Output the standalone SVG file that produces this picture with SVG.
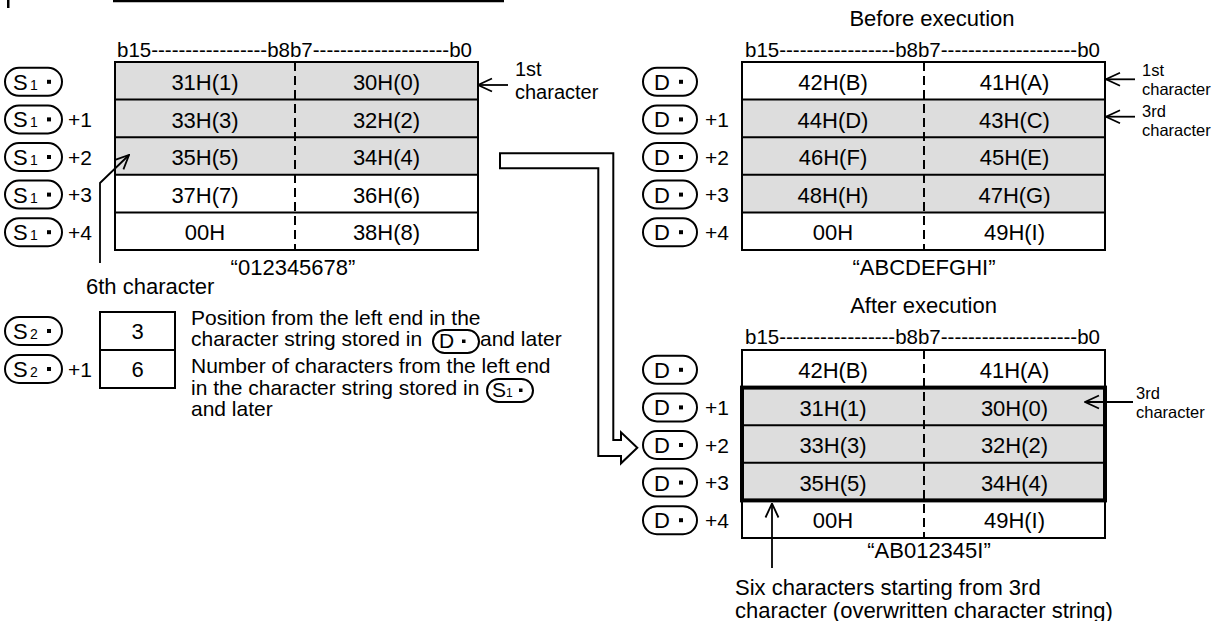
<svg xmlns="http://www.w3.org/2000/svg" width="1231" height="621" viewBox="0 0 1231 621">
<defs>
<style>
text{font-family:"Liberation Sans",Arial,sans-serif;fill:#000}
.c{font-size:22px;text-anchor:middle}
.t{font-size:22px}
.t2{font-size:20px}
.h{font-size:21px}
.s{font-size:16.5px}
.d{font-size:21px}
.g{fill:#dddddd;stroke:none}
.ln{stroke:#000;stroke-width:2;fill:none}
.bold{stroke:#000;stroke-width:4;fill:none}
.dash{stroke:#000;stroke-width:2;stroke-dasharray:9 5;fill:none}
.pill{fill:#fff;stroke:#000;stroke-width:2}
.pl{font-size:22px}
.sub{font-size:14px}
.pn{font-size:21px}
.arr{stroke:#000;stroke-width:1.8;fill:none;marker-end:url(#oa)}
</style>
<marker id="oa" markerUnits="userSpaceOnUse" viewBox="0 0 16 16" refX="15" refY="8" markerWidth="16" markerHeight="16" orient="auto"><path d="M1,1.5 L15,8 L1,14.5" fill="none" stroke="#000" stroke-width="1.8"/></marker>
</defs>

<g id="frame">
<rect x="7" y="0" width="2.5" height="8" fill="#000"/>
<line x1="113" y1="1" x2="504" y2="1" stroke="#000" stroke-width="2.5"/>
</g>

<!-- Source table S1 -->
<g id="s1-table">
<text class="h" x="117" y="57" textLength="355" lengthAdjust="spacingAndGlyphs">b15-----------------b8b7--------------------b0</text>
<rect class="g" x="115" y="62" width="363" height="112.8"/>
<line class="ln" x1="115" y1="99.6" x2="478" y2="99.6"/>
<line class="ln" x1="115" y1="137.2" x2="478" y2="137.2"/>
<line class="ln" x1="115" y1="174.8" x2="478" y2="174.8"/>
<line class="ln" x1="115" y1="212.4" x2="478" y2="212.4"/>
<rect class="ln" x="115" y="62" width="363" height="188"/>
<line class="dash" x1="295" y1="62" x2="295" y2="250"/>
<text class="c" x="205" y="90">31H(1)</text><text class="c" x="386.5" y="90">30H(0)</text>
<text class="c" x="205" y="127.6">33H(3)</text><text class="c" x="386.5" y="127.6">32H(2)</text>
<text class="c" x="205" y="165.2">35H(5)</text><text class="c" x="386.5" y="165.2">34H(4)</text>
<text class="c" x="205" y="202.8">37H(7)</text><text class="c" x="386.5" y="202.8">36H(6)</text>
<text class="c" x="205" y="240.4">00H</text><text class="c" x="386.5" y="240.4">38H(8)</text>
<text class="c" x="293" y="275">“012345678”</text>
</g>

<g id="s1-labels">
<rect class="pill" x="5" y="67.8" width="57" height="28" rx="14"/><text class="pl" x="13" y="89.8">S</text><text class="sub" x="30" y="89.8">1</text><rect x="47" y="79.8" width="4" height="4"/>
<rect class="pill" x="5" y="105.4" width="57" height="28" rx="14"/><text class="pl" x="13" y="127.4">S</text><text class="sub" x="30" y="127.4">1</text><rect x="47" y="117.4" width="4" height="4"/><text class="pn" x="68" y="127">+1</text>
<rect class="pill" x="5" y="143" width="57" height="28" rx="14"/><text class="pl" x="13" y="165">S</text><text class="sub" x="30" y="165">1</text><rect x="47" y="155" width="4" height="4"/><text class="pn" x="68" y="164.6">+2</text>
<rect class="pill" x="5" y="180.6" width="57" height="28" rx="14"/><text class="pl" x="13" y="202.6">S</text><text class="sub" x="30" y="202.6">1</text><rect x="47" y="192.6" width="4" height="4"/><text class="pn" x="68" y="202.2">+3</text>
<rect class="pill" x="5" y="218.2" width="57" height="28" rx="14"/><text class="pl" x="13" y="240.2">S</text><text class="sub" x="30" y="240.2">1</text><rect x="47" y="230.2" width="4" height="4"/><text class="pn" x="68" y="239.8">+4</text>
</g>

<g id="label-1st-left">
<text class="t2" x="515" y="76">1st</text>
<text class="t2" x="515" y="98.5">character</text>
</g>

<g id="label-6th">
<text class="t" x="86" y="294">6th character</text>
</g>

<!-- S2 -->
<g id="s2-table">
<rect class="ln" x="100" y="312" width="75" height="76"/>
<line class="ln" x1="100" y1="350" x2="175" y2="350"/>
<text class="c" x="137.5" y="339">3</text>
<text class="c" x="137.5" y="377">6</text>
<rect class="pill" x="5" y="317" width="57" height="28" rx="14"/><text class="pl" x="13" y="339">S</text><text class="sub" x="30" y="339">2</text><rect x="47" y="329" width="4" height="4"/>
<rect class="pill" x="5" y="355" width="57" height="28" rx="14"/><text class="pl" x="13" y="377">S</text><text class="sub" x="30" y="377">2</text><rect x="47" y="367" width="4" height="4"/><text class="pn" x="68" y="376.5">+1</text>
</g>

<g id="s2-desc">
<text class="d" x="191" y="325">Position from the left end in the</text>
<text class="d" x="191" y="346">character string stored in</text>
<rect class="pill" x="433" y="330" width="46" height="23" rx="11.5"/><text class="d" x="439" y="348">D</text><rect x="462" y="339.5" width="3.5" height="3.5"/>
<text class="d" x="480" y="346">and later</text>
<text class="d" x="191" y="373">Number of characters from the left end</text>
<text class="d" x="191" y="395">in the character string stored in</text>
<rect class="pill" x="487" y="379" width="46" height="23" rx="11.5"/><text class="d" x="492" y="397">S</text><text style="font-size:12px" x="506" y="397">1</text><rect x="519" y="388.5" width="3.5" height="3.5"/>
<text class="d" x="191" y="416">and later</text>
</g>

<!-- Before execution -->
<g id="d-before-table">
<text class="t" x="932" y="26" text-anchor="middle">Before execution</text>
<text class="h" x="745" y="57" textLength="355" lengthAdjust="spacingAndGlyphs">b15-----------------b8b7--------------------b0</text>
<rect class="g" x="742" y="99.6" width="363" height="112.8"/>
<line class="ln" x1="742" y1="99.6" x2="1105" y2="99.6"/>
<line class="ln" x1="742" y1="137.2" x2="1105" y2="137.2"/>
<line class="ln" x1="742" y1="174.8" x2="1105" y2="174.8"/>
<line class="ln" x1="742" y1="212.4" x2="1105" y2="212.4"/>
<rect class="ln" x="742" y="62" width="363" height="188"/>
<line class="dash" x1="924" y1="62" x2="924" y2="250"/>
<text class="c" x="833" y="90">42H(B)</text><text class="c" x="1014.5" y="90">41H(A)</text>
<text class="c" x="833" y="127.6">44H(D)</text><text class="c" x="1014.5" y="127.6">43H(C)</text>
<text class="c" x="833" y="165.2">46H(F)</text><text class="c" x="1014.5" y="165.2">45H(E)</text>
<text class="c" x="833" y="202.8">48H(H)</text><text class="c" x="1014.5" y="202.8">47H(G)</text>
<text class="c" x="833" y="240.4">00H</text><text class="c" x="1014.5" y="240.4">49H(I)</text>
<text class="c" x="924" y="275">“ABCDEFGHI”</text>
</g>

<g id="d-before-labels">
<rect class="pill" x="643" y="67.8" width="54" height="28" rx="14"/><text class="pl" x="654" y="89.8">D</text><rect x="679" y="79.8" width="4" height="4"/>
<rect class="pill" x="643" y="105.4" width="54" height="28" rx="14"/><text class="pl" x="654" y="127.4">D</text><rect x="679" y="117.4" width="4" height="4"/><text class="pn" x="705" y="127">+1</text>
<rect class="pill" x="643" y="143" width="54" height="28" rx="14"/><text class="pl" x="654" y="165">D</text><rect x="679" y="155" width="4" height="4"/><text class="pn" x="705" y="164.6">+2</text>
<rect class="pill" x="643" y="180.6" width="54" height="28" rx="14"/><text class="pl" x="654" y="202.6">D</text><rect x="679" y="192.6" width="4" height="4"/><text class="pn" x="705" y="202.2">+3</text>
<rect class="pill" x="643" y="218.2" width="54" height="28" rx="14"/><text class="pl" x="654" y="240.2">D</text><rect x="679" y="230.2" width="4" height="4"/><text class="pn" x="705" y="239.8">+4</text>
</g>

<g id="label-before-right">
<text class="s" x="1142" y="76">1st</text>
<text class="s" x="1142" y="94.5">character</text>
<text class="s" x="1142" y="117">3rd</text>
<text class="s" x="1142" y="135.5">character</text>
</g>

<!-- After execution -->
<g id="d-after-table">
<text class="t" x="923.5" y="313" text-anchor="middle">After execution</text>
<text class="h" x="745" y="344" textLength="355" lengthAdjust="spacingAndGlyphs">b15-----------------b8b7--------------------b0</text>
<rect class="g" x="742" y="387.6" width="363" height="112.8"/>
<line class="ln" x1="742" y1="425.2" x2="1105" y2="425.2"/>
<line class="ln" x1="742" y1="462.8" x2="1105" y2="462.8"/>
<rect class="ln" x="742" y="350" width="363" height="188"/>
<line class="dash" x1="924" y1="350" x2="924" y2="538"/>
<rect class="bold" x="742" y="387.6" width="363" height="112.8"/>
<text class="c" x="833" y="378">42H(B)</text><text class="c" x="1014.5" y="378">41H(A)</text>
<text class="c" x="833" y="415.6">31H(1)</text><text class="c" x="1014.5" y="415.6">30H(0)</text>
<text class="c" x="833" y="453.2">33H(3)</text><text class="c" x="1014.5" y="453.2">32H(2)</text>
<text class="c" x="833" y="490.8">35H(5)</text><text class="c" x="1014.5" y="490.8">34H(4)</text>
<text class="c" x="833" y="528.4">00H</text><text class="c" x="1014.5" y="528.4">49H(I)</text>
<text class="c" x="929" y="558">“AB012345I”</text>
</g>

<g id="d-after-labels">
<rect class="pill" x="643" y="355.8" width="54" height="28" rx="14"/><text class="pl" x="654" y="377.8">D</text><rect x="679" y="367.8" width="4" height="4"/>
<rect class="pill" x="643" y="393.4" width="54" height="28" rx="14"/><text class="pl" x="654" y="415.4">D</text><rect x="679" y="405.4" width="4" height="4"/><text class="pn" x="705" y="415">+1</text>
<rect class="pill" x="643" y="431" width="54" height="28" rx="14"/><text class="pl" x="654" y="453">D</text><rect x="679" y="443" width="4" height="4"/><text class="pn" x="705" y="452.6">+2</text>
<rect class="pill" x="643" y="468.6" width="54" height="28" rx="14"/><text class="pl" x="654" y="490.6">D</text><rect x="679" y="480.6" width="4" height="4"/><text class="pn" x="705" y="490.2">+3</text>
<rect class="pill" x="643" y="506.2" width="54" height="28" rx="14"/><text class="pl" x="654" y="528.2">D</text><rect x="679" y="518.2" width="4" height="4"/><text class="pn" x="705" y="527.8">+4</text>
</g>

<g id="label-after-right">
<text class="s" x="1136" y="399">3rd</text>
<text class="s" x="1136" y="417.5">character</text>
</g>

<g id="label-six">
<text class="t" x="735" y="595">Six characters starting from 3rd</text>
<text class="t" x="735" y="618">character (overwritten character string)</text>
</g>

<g id="connectors">
<path d="M500,153.3 H613.3 V440 H621 V432.3 L637.3,447.7 L621,463.3 V456 H598.3 V168.3 H500 Z" fill="#fff" stroke="#000" stroke-width="2"/>
<line class="arr" x1="508" y1="85" x2="478" y2="85"/>
<polyline class="arr" points="100,263 100,183 129,155"/>
<line class="arr" x1="1135" y1="79.3" x2="1106" y2="79.3"/>
<line class="arr" x1="1135" y1="116.7" x2="1106" y2="116.7"/>
<line class="arr" x1="1133" y1="402" x2="1085" y2="402"/>
<line class="arr" x1="772" y1="568" x2="772" y2="503.5"/>
</g>
</svg>
